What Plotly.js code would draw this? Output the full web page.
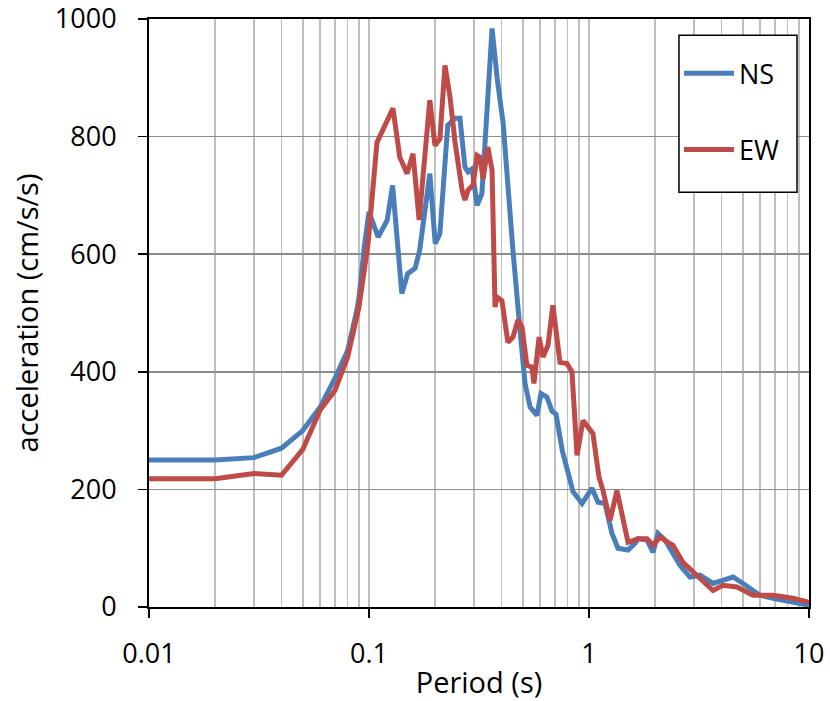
<!DOCTYPE html>
<html>
<head>
<meta charset="utf-8">
<script src="https://cdn.plot.ly/plotly-3.0.1.min.js"></script>
<style>
html,body{margin:0;padding:0;background:#fff;}
#chart{width:830px;height:701px;}
</style>
</head>
<body>
<div id="chart"></div>
<script>
// Period (s) and spectral acceleration (cm/s/s), NS component
var periodNS = [0.01, 0.02, 0.03, 0.04, 0.05, 0.06, 0.07, 0.08, 0.088, 0.09, 0.095, 0.1, 0.11, 0.121, 0.128, 0.141, 0.15, 0.162, 0.17, 0.189, 0.2, 0.21, 0.228, 0.246, 0.259, 0.273, 0.282, 0.294, 0.31, 0.326, 0.3625, 0.382, 0.407, 0.4375, 0.451, 0.486, 0.512, 0.54, 0.557, 0.58, 0.605, 0.644, 0.679, 0.708, 0.757, 0.794, 0.846, 0.93, 1.032, 1.099, 1.182, 1.272, 1.354, 1.504, 1.618, 1.67, 1.835, 1.954, 2.059, 2.215, 2.409, 2.592, 2.877, 3.195, 3.662, 4.064, 4.514, 5.012, 5.98, 6.855, 8.46, 10];
var accNS = [250, 250, 254, 270, 300, 340, 389, 436, 504, 525, 610, 672, 629, 658, 717, 533, 567, 576, 607, 737, 618, 635, 819, 831, 831, 748, 740, 745, 683, 703, 984, 901, 823, 663, 607, 470, 380, 340, 334, 326, 363, 357, 333, 328, 265, 233, 196, 176, 202, 178, 176, 125, 100, 97, 108, 116, 114, 93, 125, 114, 90, 71, 51, 54, 40, 45, 51, 40, 20, 15, 8, 3];

// EW component
var periodEW = [0.01, 0.02, 0.03, 0.04, 0.05, 0.06, 0.07, 0.08, 0.09, 0.099, 0.1087, 0.116, 0.1285, 0.138, 0.149, 0.1585, 0.169, 0.189, 0.1995, 0.21, 0.2215, 0.2335, 0.246, 0.265, 0.273, 0.282, 0.297, 0.31, 0.3195, 0.33, 0.347, 0.3625, 0.374, 0.382, 0.402, 0.428, 0.451, 0.4755, 0.496, 0.522, 0.551, 0.562, 0.593, 0.618, 0.651, 0.6855, 0.738, 0.794, 0.837, 0.882, 0.939, 1.042, 1.11, 1.158, 1.246, 1.34, 1.413, 1.504, 1.67, 1.835, 1.954, 2.103, 2.285, 2.409, 2.673, 3.098, 3.662, 4.064, 4.707, 5.559, 6.855, 8.46, 10];
var accEW = [218, 218, 227, 224, 268, 335, 368, 425, 510, 618, 790, 814, 848, 765, 737, 771, 658, 862, 785, 796, 921, 867, 791, 709, 692, 709, 717, 768, 765, 728, 782, 743, 510, 527, 521, 450, 459, 488, 476, 411, 408, 380, 459, 425, 445, 513, 416, 414, 400, 258, 317, 295, 221, 198, 147, 198, 159, 110, 116, 116, 105, 119, 110, 105, 76, 54, 28, 37, 34, 20, 20, 15, 8];

var xTickVals = [0.01, 0.1, 1, 10];
var xTickText = ['0.01', '0.1', '1', '10'];
var minorVals = [];
[0.01, 0.1, 1].forEach(function (d) { for (var k = 2; k <= 9; k++) minorVals.push(+(d * k).toPrecision(3)); });

var FONT = 'Open Sans, Noto Sans, sans-serif';

var traces = [
  {x: periodNS, y: accNS, name: 'NS', type: 'scatter', mode: 'lines',
   line: {color: '#4a7ebb', width: 5}, legendgroup: 'a'},
  {x: periodEW, y: accEW, name: 'EW', type: 'scatter', mode: 'lines',
   line: {color: '#be4b48', width: 5}, legendgroup: 'b'}
];

var layout = {
  width: 830, height: 701,
  margin: {l: 149, r: 21, t: 19, b: 94, pad: 0},
  paper_bgcolor: '#fff', plot_bgcolor: '#fff',
  font: {family: FONT, size: 26, color: '#000'},
  showlegend: true,
  legend: {x: 0.803, y: 0.9485, xanchor: 'left', yanchor: 'top',
           bgcolor: 'rgba(0,0,0,0)', borderwidth: 0, itemwidth: 50,
           font: {family: FONT, size: 27, color: '#000'},
           tracegroupgap: 38, traceorder: 'grouped'},
  shapes: [
    {type: 'rect', xref: 'paper', yref: 'paper', x0: 0.803, x1: 0.9818, y0: 0.7053, y1: 0.9723,
     fillcolor: '#fff', line: {color: '#000', width: 1.5}, layer: 'above'}
  ],
  xaxis: {
    type: 'log', range: [-2, 1],
    tickmode: 'array', tickvals: xTickVals, ticktext: xTickText,
    ticks: 'outside', ticklen: 9, tickwidth: 1.5, tickcolor: '#000',
    ticklabelstandoff: 13,
    showline: true, linecolor: '#000', linewidth: 2, mirror: true,
    showgrid: true, gridcolor: '#bfbfbf', gridwidth: 1.5,
    minor: {tickmode: 'array', tickvals: minorVals, showgrid: true, gridcolor: '#bfbfbf', gridwidth: 1.5, ticks: ''},
    tickfont: {family: FONT, size: 27, color: '#000'},
    title: {text: 'Period (s)', font: {family: FONT, size: 29, color: '#000'}, standoff: 2},
    zeroline: false
  },
  yaxis: {
    range: [0, 1000], dtick: 200, tick0: 0,
    ticks: 'outside', ticklen: 9, tickwidth: 1.5, tickcolor: '#000',
    ticklabelstandoff: 16, ticklabeloverflow: 'allow',
    showline: true, linecolor: '#000', linewidth: 2, mirror: true,
    showgrid: true, gridcolor: '#8c8c8c', gridwidth: 1.5,
    tickfont: {family: FONT, size: 27, color: '#000'},
    title: {text: 'acceleration (cm/s/s)', font: {family: FONT, size: 29, color: '#000'}, standoff: 8},
    zeroline: false
  }
};

Plotly.newPlot('chart', traces, layout, {displayModeBar: false, staticPlot: true});
</script>
</body>
</html>
